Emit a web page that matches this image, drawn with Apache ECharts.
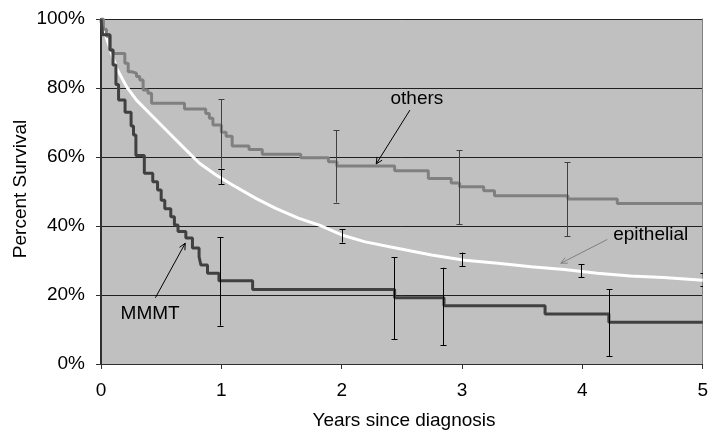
<!DOCTYPE html>
<html>
<head>
<meta charset="utf-8">
<script src="https://cdn.jsdelivr.net/npm/echarts@6/dist/echarts.min.js"></script>
<style>html,body{margin:0;padding:0;background:#fff;}#c{width:711px;height:432px;}</style>
</head>
<body>
<div id="c"></div>
<script>
// ---- data (years since diagnosis, percent survival) ----
const xTicks = [0, 1, 2, 3, 4, 5];
const yTicks = [0, 20, 40, 60, 80, 100];

// Kaplan-Meier steps: [event time, survival after event]
const mmmt = [[0,100],[0.014,95.4],[0.075,91],[0.1,86.7],[0.124,81],[0.146,76.5],[0.2,73],[0.25,69],[0.27,66.4],[0.29,60.4],[0.36,55.3],[0.43,52.8],[0.47,50.4],[0.5,47.5],[0.53,45],[0.58,42.7],[0.61,40.3],[0.64,38.4],[0.705,36.5],[0.76,33.6],[0.815,31.1],[0.83,28.7],[0.885,26.3],[0.98,24.1],[1.26,21.6],[2.44,19.2],[2.85,16.9],[3.69,14.5],[4.22,12.1],[5,12.1]];

const others = [[0,100],[0.02,97],[0.045,95],[0.074,91],[0.1,90],[0.198,87.2],[0.226,84.7],[0.254,84.3],[0.295,83.3],[0.322,82.3],[0.35,79.4],[0.39,78.5],[0.42,75.6],[0.694,73.9],[0.87,72.6],[0.9,71.2],[0.93,69.3],[1.0,67.2],[1.04,66],[1.09,63.2],[1.23,62.2],[1.34,60.8],[1.66,59.8],[1.89,58.6],[1.96,57.4],[2.44,56],[2.72,53.8],[2.91,52.5],[2.98,51.4],[3.18,50.2],[3.27,48.8],[3.88,47.8],[4.29,46.5],[5,46.5]];

const epithelial = [[0,100],[0.03,96],[0.06,93],[0.088,90],[0.13,85.7],[0.212,80.4],[0.295,76.5],[0.405,72.6],[0.57,66.8],[0.708,62],[0.818,58.2],[0.956,54.8],[1.093,51.9],[1.287,48],[1.452,45.1],[1.645,42.2],[1.81,40.3],[2.0,37.4],[2.196,35.4],[2.471,33.5],[2.746,31.6],[3.022,30.1],[3.298,29.2],[3.573,28.2],[3.849,27.4],[4.124,26.3],[4.399,25.5],[4.675,25.1],[5,24.3]];

// error bars: [time, upper, lower]
const othersErr = [[0.995,76.8,56.6],[1.956,67.8,46.8],[2.975,62.0,40.5],[3.87,58.5,37.1]];
const epithErr = [[0.995,56.5,52.2],[2.0,39.1,35.2],[3.0,32.3,28.4],[3.99,28.9,25.1],[5.0,26.3,22.6]];
const mmmtErr = [[0.985,36.7,11.1],[2.435,30.9,7.2],[2.846,27.9,5.5],[4.22,21.7,2.3]];

// annotations: label position, arrow from -> to (data coords)
const annotations = [
  {text:'others', at:[2.625,77.0], align:'center', from:[2.567,73.6], to:[2.287,58.0], color:'#000000'},
  {text:'epithelial', at:[4.256,37.6], align:'left', from:[4.207,36.1], to:[3.821,29.2], color:'#808080'},
  {text:'MMMT', at:[0.408,14.7], align:'center', from:[0.452,19.2], to:[0.70,35.0], color:'#000000'}
];

const FONT = '"Liberation Sans", Arial, sans-serif';

function errSeries(name, data, color){
  return {
    type:'custom', name:name, data:data, clip:true, z:5, silent:true,
    renderItem:function(params, api){
      const x = api.value(0), hi = api.value(1), lo = api.value(2);
      const p1 = api.coord([x,hi]), p2 = api.coord([x,lo]);
      const cx = Math.round(p1[0]) + 0.5, w = 3;
      const st = {stroke:color, lineWidth:1};
      return {type:'group', children:[
        {type:'line', shape:{x1:cx,y1:p1[1],x2:cx,y2:p2[1]}, style:st},
        {type:'line', shape:{x1:cx-w,y1:Math.round(p1[1])+0.5,x2:cx+w,y2:Math.round(p1[1])+0.5}, style:st},
        {type:'line', shape:{x1:cx-w,y1:Math.round(p2[1])+0.5,x2:cx+w,y2:Math.round(p2[1])+0.5}, style:st}
      ]};
    }
  };
}

const chart = echarts.init(document.getElementById('c'));
chart.setOption({
  animation:false,
  backgroundColor:'#ffffff',
  grid:{left:101, right:5, top:19, bottom:68, show:true, backgroundColor:'#c0c0c0', borderWidth:0},
  xAxis:{
    type:'value', min:xTicks[0], max:xTicks[xTicks.length-1], interval:1,
    axisLine:{show:true, lineStyle:{color:'#303030', width:1}},
    axisTick:{show:true, length:5, lineStyle:{color:'#303030'}},
    axisLabel:{color:'#000', fontFamily:FONT, fontSize:19, margin:17},
    splitLine:{show:false}
  },
  yAxis:[{
    type:'value', min:yTicks[0], max:yTicks[yTicks.length-1], interval:20,
    axisLine:{show:true, lineStyle:{color:'#303030', width:2}},
    axisTick:{show:true, length:5, lineStyle:{color:'#303030'}},
    axisLabel:{color:'#000', fontFamily:FONT, fontSize:19, margin:16, formatter:'{value}%'},
    splitLine:{show:true, lineStyle:{color:'#202020', width:1}}
  },{
    type:'value', min:0, max:100, position:'right',
    axisLine:{show:true, lineStyle:{color:'#808080', width:1}},
    axisTick:{show:false}, axisLabel:{show:false}, splitLine:{show:false}
  }],
  series:[
    {type:'line', name:'epithelial', data:epithelial, showSymbol:false, z:2,
     lineStyle:{color:'#ffffff', width:3}},
    {type:'line', name:'others', data:others, step:'end', showSymbol:false, z:3,
     lineStyle:{color:'#808080', width:3}},
    {type:'line', name:'MMMT', data:mmmt, step:'end', showSymbol:false, z:4,
     lineStyle:{color:'#404040', width:3}},
    errSeries('othersErr', othersErr, '#404040'),
    errSeries('epithErr', epithErr, '#000000'),
    errSeries('mmmtErr', mmmtErr, '#000000')
  ]
});

// annotations and axis titles
const g = [];
annotations.forEach(function(a){
  const t = chart.convertToPixel({gridIndex:0}, a.at);
  const p1 = chart.convertToPixel({gridIndex:0}, a.from);
  const p2 = chart.convertToPixel({gridIndex:0}, a.to);
  g.push({type:'text', x:t[0], y:t[1], z:20, style:{text:a.text, fill:'#000', font:'19px ' + FONT, align:a.align, verticalAlign:'middle'}});
  const ang = Math.atan2(p2[1]-p1[1], p2[0]-p1[0]);
  const L = 7, s = 0.45;
  const h1 = [p2[0]-L*Math.cos(ang-s), p2[1]-L*Math.sin(ang-s)];
  const h2 = [p2[0]-L*Math.cos(ang+s), p2[1]-L*Math.sin(ang+s)];
  g.push({type:'line', z:20, shape:{x1:p1[0],y1:p1[1],x2:p2[0],y2:p2[1]}, style:{stroke:a.color, lineWidth:1}});
  g.push({type:'polyline', z:20, shape:{points:[h1,p2,h2]}, style:{stroke:a.color, lineWidth:1, fill:null}});
});
g.push({type:'text', x:20.5, y:189, rotation:Math.PI/2, style:{text:'Percent Survival', fill:'#000', font:'19px ' + FONT, align:'center', verticalAlign:'middle'}});
g.push({type:'text', x:404, y:421, style:{text:'Years since diagnosis', fill:'#000', font:'19px ' + FONT, align:'center', verticalAlign:'middle'}});
chart.setOption({graphic:g});
</script>
</body>
</html>
